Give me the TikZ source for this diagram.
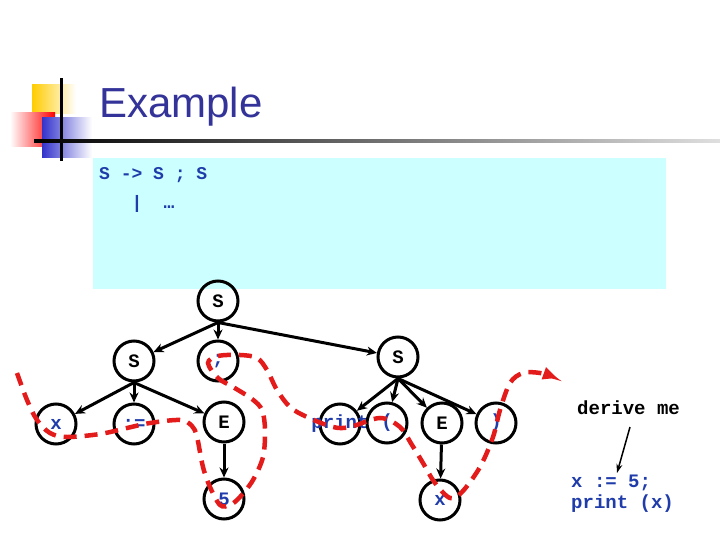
\documentclass[tikz,border=0pt]{standalone}
\usepackage{fontspec}
\setmainfont{Liberation Sans}
\newfontfamily\codefont{Liberation Mono}
\usetikzlibrary{arrows.meta}
\definecolor{titleblue}{HTML}{333399}
\definecolor{codeblue}{HTML}{1F3CAA}
\definecolor{boxcyan}{HTML}{CCFFFF}
\definecolor{dashred}{HTML}{E41B1B}
\definecolor{logoyellow}{HTML}{FFCC00}
\definecolor{logoblue}{HTML}{3333CC}
\tikzset{
  tnode/.style={circle, draw=black, line width=3pt, minimum size=40pt, inner sep=0pt},
  nt/.style={font=\codefont\bfseries\fontsize{19}{19}\selectfont, text=black},
  tm/.style={font=\codefont\bfseries\fontsize{19}{19}\selectfont, text=codeblue},
  edge/.style={line width=3pt, -{Stealth[length=10pt,width=9pt]}},
  code/.style={font=\codefont\bfseries\fontsize{18}{18}\selectfont, text=codeblue, inner sep=0pt, anchor=base west},
  walk/.style={dashred, line width=4.5pt, dash pattern=on 13pt off 8pt},
}
\begin{document}
\begin{tikzpicture}[x=1pt,y=-1pt]
\useasboundingbox (0,0) rectangle (720,540);
\fill[white] (0,0) rectangle (720,540);
% logo
\shade[left color=logoyellow, right color=white] (32,85) rectangle (76,114);
\shade[left color=white, right color=red] (10,113) rectangle (55,147);
\shade[left color=logoblue, right color=white] (42,118) rectangle (92,158);
\fill[black] (59.5,78) rectangle (62.5,161);
\shade[left color=black, right color=gray!25] (34,139.5) rectangle (720,142.5);
% title
\node[anchor=base west, inner sep=0pt, text=titleblue, font=\fontsize{42}{42}\selectfont] (title) at (99,118) {Example};
% grammar box
\fill[boxcyan] (93,158) rectangle (666,289);
\node[code] (g1) at (99,180) {S -> S ; S};
\node[code, anchor=base] (g2) at (137,208) {|};
\node[code, anchor=base] (g3) at (169,208) {…};
% tree
\node[tnode, label={[nt]center:S}] (S0) at (218,301) {};
\node[tnode, label={[nt]center:S}] (S1) at (134,361) {};
\node[tnode, label={[tm]center:;}] (semi) at (218,361) {};
\node[tnode, label={[nt]center:S}] (S2) at (398,357) {};
\node[tnode, label={[tm]center:x}] (x1) at (56,424) {};
\node[tnode, label={[tm]center::=}] (asg) at (134,424) {};
\node[tnode, label={[nt]center:E}] (E1) at (224,422) {};
\node[tnode, label={[tm]center:5}] (five) at (224,499) {};
\node[tnode, label={[tm]center:print}] (prt) at (340,424) {};
\node[tnode, label={[tm]center:(}] (lp) at (387,423) {};
\node[tnode, label={[nt]center:E}] (E2) at (442,423) {};
\node[tnode, label={[tm]center:)}] (rp) at (496,423) {};
\node[tnode, label={[tm]center:x}] (x2) at (440,500) {};
\draw[edge] (S0.south) -- (S1);
\draw[edge] (S0.south) -- (semi);
\draw[edge] (S0.south) -- (S2);
\draw[edge] (S1.south) -- (x1);
\draw[edge] (S1.south) -- (asg);
\draw[edge] (S1.south) -- (E1);
\draw[edge] (E1) -- (five);
\draw[edge] (S2.south) -- (prt);
\draw[edge] (S2.south) -- (lp);
\draw[edge] (S2.south) -- (E2);
\draw[edge] (S2.south) -- (rp);
\draw[edge] (E2) -- (x2);
% walk
\draw[walk, -{Triangle[length=14pt,width=12pt,fill=dashred]}] plot[smooth, tension=0.55] coordinates {
 (17,373) (27,400) (37,420) (50,433) (67,437) (100,434) (127,428) (150,423) (180,420)
 (192,426) (197,437) (203,467) (210,487) (220,505) (230,505) (240,497) (253,480)
 (263,457) (265,430) (262,410) (252,399) (233,387) (218,378) (208,363) (218,356)
 (240,355) (257,358) (267,370) (277,390) (290,407) (307,417) (333,427) (350,427)
 (380,418) (400,427) (412,445) (423,463) (435,483) (450,498) (462,492) (480,467)
 (493,437) (500,410) (510,383) (523,373) (540,373) (557,378)};
% side note
\node[font=\codefont\bfseries\fontsize{19}{19}\selectfont, anchor=base west, inner sep=0pt] (der) at (577,414) {derive me};
\node[code, font=\codefont\bfseries\fontsize{19}{19}\selectfont] (c1) at (571,487) {x := 5;};
\node[code, font=\codefont\bfseries\fontsize{19}{19}\selectfont] (c2) at (571,508) {print (x)};
\coordinate (a1) at (630,427);
\coordinate (a2) at (617,473);
\draw[line width=1.5pt, -{Stealth[length=9pt,width=6pt]}] (a1) -- (a2);
\end{tikzpicture}
\end{document}
